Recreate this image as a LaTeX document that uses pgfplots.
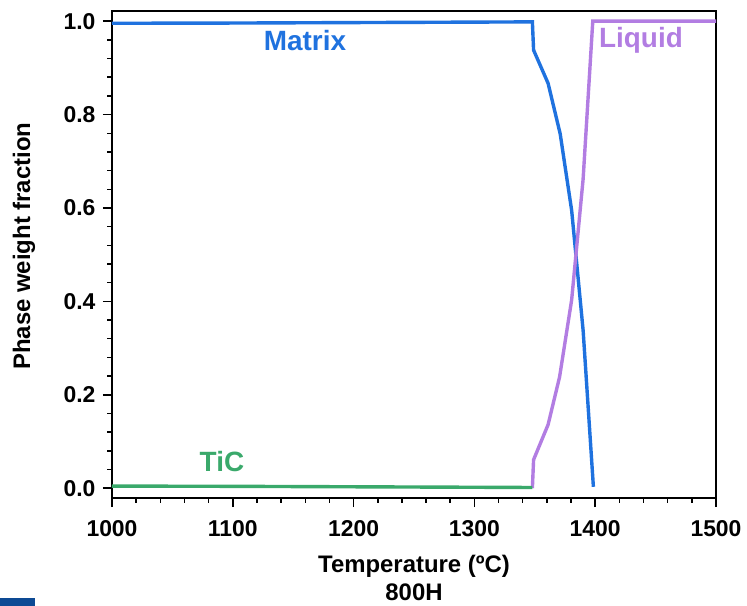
\documentclass[border=0pt]{standalone}
\usepackage{pgfplots}
\pgfplotsset{compat=1.18}
\usepackage{fontspec}
\setmainfont{Liberation Sans}
\definecolor{matblue}{HTML}{1F72DF}
\definecolor{liqpurple}{HTML}{B27DE2}
\definecolor{ticgreen}{HTML}{3AA96B}
\definecolor{logoblue}{HTML}{0D4A94}
\begin{document}
\begin{tikzpicture}
\path[use as bounding box] (-112bp,-108bp) rectangle (635bp,498bp);
\fill[logoblue] (-112bp,-108bp) rectangle (-77bp,-100bp);
\begin{axis}[
  scale only axis,
  width=604bp, height=487bp,
  xmin=1000, xmax=1500,
  ymin=-0.0210, ymax=1.0218,
  xtick={1000,1100,...,1500},
  ytick={0,0.2,...,1.0},
  minor x tick num=4,
  minor y tick num=4,
  tick align=outside,
  xtick pos=bottom, ytick pos=left,
  major tick length=9bp, minor tick length=4.5bp,
  every tick/.style={black, line width=1.5bp},
  axis line style={black, line width=2bp},
  /pgf/number format/assume math mode=true,
  yticklabel style={/pgf/number format/.cd, fixed, fixed zerofill, precision=1, /tikz/.cd, xshift=-4bp},
  xticklabel style={/pgf/number format/.cd, 1000 sep={}, /tikz/.cd, yshift=-10bp},
  tick label style={font=\fontsize{23}{26}\selectfont\bfseries},
  xlabel={Temperature (ºC)\\800H},
  xlabel style={at={(axis description cs:0.5,-0.117)}, anchor=north, align=center, inner sep=0pt, font=\fontsize{24}{28}\selectfont\bfseries},
  ylabel={Phase weight fraction},
  ylabel style={at={(axis description cs:-0.1457,0.517)}, anchor=center, inner sep=0pt, font=\fontsize{24}{28}\selectfont\bfseries},
  clip=false,
]
\addplot[matblue, line width=3.4bp] coordinates {
 (1000,0.9955) (1100,0.996) (1200,0.997) (1300,0.998) (1348,0.9985)
 (1349,0.938) (1361,0.867) (1371,0.759) (1380.5,0.595) (1390,0.338) (1398.5,0.003)
};
\addplot[liqpurple, line width=3.4bp] coordinates {
 (1348,0.0) (1349,0.061) (1361,0.136) (1370.5,0.238) (1380.5,0.403) (1390,0.662) (1398,1.0) (1500,1.0)
};
\addplot[ticgreen, line width=3.4bp] coordinates {
 (1000,0.0045) (1100,0.004) (1200,0.003) (1300,0.002) (1348,0.0015)
};
\node[matblue, font=\fontsize{28}{32}\selectfont\bfseries] at (axis cs:1159.8,0.959) {Matrix};
\node[liqpurple, font=\fontsize{28}{32}\selectfont\bfseries] at (axis cs:1437.9,0.959) {Liquid};
\node[ticgreen, font=\fontsize{28}{32}\selectfont\bfseries] at (axis cs:1091,0.058) {TiC};
\end{axis}
\end{tikzpicture}
\end{document}
